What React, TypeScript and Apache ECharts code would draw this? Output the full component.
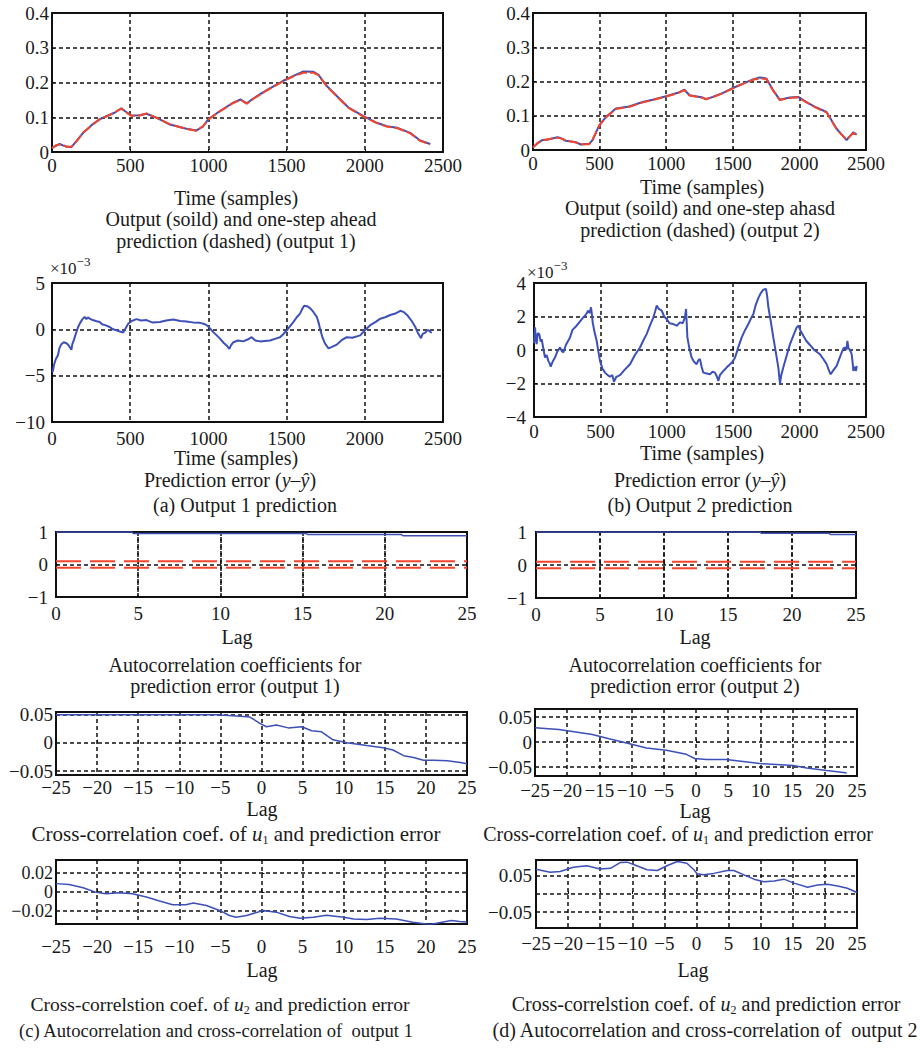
import React, { useEffect, useRef } from 'react';
import * as echarts from 'echarts';

const FONT = 'Liberation Serif';
const BLUE = '#3c50b8';
const RED = '#f2452c';
const INK = '#1a1a1a';

// ---------- data ----------
const timeRange = [0, 2500];
const timeStep = 500;

const output1Measured: [number, number][] = [
  [0, 0.012], [25, 0.018], [49, 0.023], [70, 0.019], [92, 0.016], [124, 0.014], [156, 0.031], [199, 0.055],
  [263, 0.081], [305, 0.094], [348, 0.103], [400, 0.113], [444, 0.126], [465, 0.118], [508, 0.105], [560, 0.106],
  [604, 0.110], [668, 0.099], [754, 0.079], [860, 0.067], [924, 0.062], [967, 0.074], [999, 0.094], [1074, 0.118],
  [1159, 0.142], [1206, 0.151], [1245, 0.140], [1287, 0.154], [1373, 0.178], [1479, 0.205], [1544, 0.219],
  [1608, 0.232], [1672, 0.231], [1704, 0.222], [1757, 0.190], [1821, 0.161], [1896, 0.128], [1992, 0.103],
  [2077, 0.084], [2141, 0.074], [2205, 0.070], [2290, 0.055], [2354, 0.033], [2418, 0.023],
];
const output1Predicted: [number, number][] = [
  [0, 0.011], [25, 0.019], [49, 0.022], [70, 0.020], [92, 0.015], [124, 0.015], [156, 0.030], [199, 0.056],
  [263, 0.080], [305, 0.095], [348, 0.102], [400, 0.114], [444, 0.125], [465, 0.117], [508, 0.104], [560, 0.105],
  [604, 0.111], [668, 0.098], [754, 0.080], [860, 0.066], [924, 0.061], [967, 0.075], [999, 0.093], [1074, 0.117],
  [1159, 0.141], [1206, 0.150], [1245, 0.139], [1287, 0.153], [1373, 0.177], [1479, 0.204], [1544, 0.218],
  [1608, 0.228], [1672, 0.228], [1704, 0.221], [1757, 0.189], [1821, 0.160], [1896, 0.127], [1992, 0.102],
  [2077, 0.083], [2141, 0.073], [2205, 0.069], [2290, 0.054], [2354, 0.032], [2418, 0.022],
];

const output2Measured: [number, number][] = [
  [0, 0.008], [35, 0.020], [70, 0.029], [120, 0.031], [183, 0.037], [208, 0.035], [246, 0.027], [321, 0.023],
  [359, 0.016], [422, 0.018], [447, 0.029], [497, 0.072], [547, 0.096], [622, 0.121], [723, 0.127], [823, 0.140],
  [899, 0.147], [999, 0.157], [1087, 0.167], [1137, 0.176], [1175, 0.160], [1275, 0.153], [1300, 0.148],
  [1350, 0.155], [1426, 0.167], [1501, 0.181], [1576, 0.194], [1652, 0.206], [1702, 0.212], [1752, 0.209],
  [1802, 0.175], [1852, 0.147], [1928, 0.153], [1991, 0.155], [2053, 0.140], [2128, 0.124], [2204, 0.111],
  [2279, 0.062], [2354, 0.029], [2405, 0.052], [2430, 0.045],
];
const output2Predicted: [number, number][] = [
  [0, 0.007], [35, 0.021], [70, 0.028], [120, 0.032], [183, 0.036], [208, 0.034], [246, 0.028], [321, 0.022],
  [359, 0.017], [422, 0.017], [447, 0.030], [497, 0.071], [547, 0.095], [622, 0.120], [723, 0.126], [823, 0.139],
  [899, 0.146], [999, 0.156], [1087, 0.166], [1137, 0.175], [1175, 0.159], [1275, 0.152], [1300, 0.149],
  [1350, 0.154], [1426, 0.166], [1501, 0.180], [1576, 0.193], [1652, 0.205], [1702, 0.209], [1752, 0.207],
  [1802, 0.174], [1852, 0.146], [1928, 0.152], [1991, 0.154], [2053, 0.139], [2128, 0.123], [2204, 0.110],
  [2279, 0.061], [2354, 0.030], [2405, 0.050], [2430, 0.044],
];

// prediction errors, in units of 1e-3
const error1: [number, number][] = [
  [0, -4.6], [6, -4.5], [12, -3.9], [17, -3.6], [25, -3.2], [38, -2.8], [48, -2.0], [60, -1.6], [75, -1.4],
  [92, -1.5], [105, -1.7], [113, -1.9], [124, -2.2], [130, -1.6], [139, -1.2], [150, -0.6], [160, -0.1],
  [167, 0.25], [180, 0.7], [195, 1.1], [209, 1.35], [220, 1.1], [230, 1.3], [241, 1.15], [260, 1.0], [280, 0.9],
  [305, 0.8], [320, 0.55], [340, 0.45], [369, 0.25], [390, 0.0], [412, -0.1], [430, -0.2], [455, -0.35],
  [470, 0.1], [487, 0.6], [510, 0.9], [540, 1.1], [570, 0.95], [604, 1.0], [640, 0.75], [690, 0.8], [730, 0.95],
  [775, 1.05], [820, 0.9], [860, 0.85], [900, 0.75], [946, 0.7], [970, 0.6], [989, 0.45], [1010, 0.1],
  [1031, -0.3], [1050, -0.6], [1074, -1.0], [1100, -1.5], [1120, -1.8], [1134, -2.1], [1145, -1.7],
  [1159, -1.4], [1190, -1.2], [1223, -1.3], [1250, -1.1], [1277, -0.85], [1300, -1.2], [1330, -1.3],
  [1360, -1.25], [1394, -1.2], [1430, -1.0], [1458, -0.85], [1480, -0.5], [1501, -0.1], [1520, 0.3],
  [1544, 0.8], [1565, 1.3], [1586, 1.7], [1600, 2.2], [1612, 2.55], [1630, 2.5], [1650, 2.3], [1670, 1.9],
  [1693, 1.35], [1705, 0.7], [1714, 0.05], [1730, -0.9], [1746, -1.55], [1768, -2.05], [1790, -1.9],
  [1821, -1.65], [1850, -1.2], [1885, -0.85], [1920, -0.9], [1971, -0.65], [2000, -0.1], [2035, 0.45],
  [2070, 0.8], [2099, 1.15], [2130, 1.3], [2163, 1.55], [2195, 1.7], [2227, 2.0], [2250, 1.85], [2270, 1.55],
  [2300, 0.9], [2323, 0.25], [2340, -0.4], [2359, -0.95], [2370, -0.5], [2387, -0.35], [2400, -0.1],
  [2408, -0.1], [2420, -0.3], [2429, -0.35],
];

const error2: [number, number][] = [
  [0, 0.4], [8, 1.35], [14, 0.6], [20, 0.35], [28, 1.0], [40, 0.95], [50, 0.5], [58, 0.65], [70, 0.1],
  [83, -0.45], [95, -0.3], [108, -0.65], [118, -0.8], [126, -1.0], [140, -0.7], [158, -0.45], [175, -0.1],
  [196, 0.15], [208, -0.05], [221, -0.15], [240, 0.3], [271, 0.75], [290, 1.2], [321, 1.45], [345, 1.7],
  [371, 1.95], [390, 2.1], [409, 2.35], [420, 2.2], [429, 2.55], [435, 2.2], [442, 1.65], [455, 1.1],
  [472, 0.55], [485, -0.1], [497, -0.65], [515, -1.1], [535, -1.35], [555, -1.5], [572, -1.6], [590, -1.5],
  [602, -1.9], [620, -1.6], [648, -1.5], [680, -1.2], [723, -0.85], [760, -0.3], [798, 0.15], [825, 0.6],
  [848, 0.95], [875, 1.5], [899, 1.95], [912, 2.3], [924, 2.65], [940, 2.45], [962, 2.35], [980, 2.0],
  [999, 1.85], [1020, 1.6], [1049, 1.55], [1075, 1.45], [1099, 1.65], [1120, 1.6], [1137, 1.95], [1145, 2.45],
  [1150, 1.6], [1155, 0.75], [1170, 0.1], [1187, -0.45], [1205, -0.7], [1225, -0.85], [1238, -0.6],
  [1250, -0.55], [1262, -1.0], [1275, -1.35], [1300, -1.4], [1325, -1.45], [1345, -1.3], [1363, -1.35],
  [1378, -1.6], [1388, -1.85], [1400, -1.5], [1426, -1.25], [1450, -1.05], [1476, -0.85], [1495, -0.7],
  [1514, -0.45], [1540, 0.2], [1564, 0.75], [1590, 1.2], [1614, 1.55], [1635, 1.9], [1652, 2.15], [1670, 2.7],
  [1689, 3.1], [1708, 3.4], [1727, 3.6], [1747, 3.65], [1756, 3.2], [1765, 2.55], [1785, 1.6], [1802, 0.75],
  [1820, -0.1], [1840, -1.05], [1852, -2.0], [1862, -1.5], [1877, -1.05], [1900, -0.4], [1928, 0.35],
  [1955, 0.9], [1978, 1.35], [1991, 1.45], [2010, 1.1], [2028, 0.85], [2050, 0.55], [2078, 0.3], [2110, 0.0],
  [2153, -0.25], [2180, -0.55], [2204, -0.85], [2220, -1.2], [2234, -1.45], [2255, -1.2], [2279, -0.95],
  [2300, -0.5], [2317, -0.15], [2330, 0.1], [2342, 0.15], [2352, 0.0], [2360, 0.55], [2368, 0.1],
  [2375, 0.05], [2385, -0.1], [2392, -0.25], [2400, -0.8], [2405, -1.25], [2415, -1.0], [2425, -1.25],
  [2430, -0.95],
];

// autocorrelation of prediction error
const autocorr1: [number, number][] = [
  [0, 1], [4.6, 1], [4.7, 0.955], [15.2, 0.955], [15.3, 0.925], [21, 0.925], [21.1, 0.885], [25, 0.885],
];
const autocorr2: [number, number][] = [
  [0, 1], [17.5, 1], [17.6, 0.965], [22.9, 0.965], [23, 0.925], [25, 0.925],
];
const confUpper: [number, number][] = [[0, 0.1], [25, 0.1]];
const confLower: [number, number][] = [[0, -0.1], [25, -0.1]];
const autocorrGridLags = [5, 10, 15, 20];

// cross-correlations
const crossU1Out1: [number, number][] = [
  [-25, 0.049], [-15, 0.049], [-5.5, 0.049], [-3, 0.047], [-1.4, 0.045], [-0.2, 0.034], [0.6, 0.028],
  [1.8, 0.031], [3.25, 0.026], [4.9, 0.028], [6.1, 0.021], [7.3, 0.019], [8.7, 0.005], [10.4, 0.0],
  [12.8, -0.005], [14.8, -0.009], [16, -0.013], [17.3, -0.023], [18.5, -0.026], [19.7, -0.031],
  [20.9, -0.031], [22.6, -0.032], [24.2, -0.035], [25, -0.037],
];
const crossU1Out2: [number, number][] = [
  [-25, 0.0287], [-21.3, 0.025], [-19.2, 0.021], [-16.1, 0.015], [-13.5, 0.0067], [-10.3, -0.0033],
  [-7.7, -0.012], [-4.6, -0.0167], [-1.5, -0.0247], [-0.2, -0.033], [1.6, -0.035], [3.2, -0.035],
  [4.7, -0.035], [7.3, -0.039], [9.9, -0.043], [12.5, -0.045], [15.1, -0.047], [17.2, -0.052],
  [20.3, -0.057], [22.9, -0.061], [23.4, -0.062],
];
const crossU2Out1: [number, number][] = [
  [-25, 0.0089], [-23.4, 0.0079], [-21.7, 0.0046], [-20.1, -0.0004], [-18.9, -0.0018], [-17.3, -0.0007],
  [-15.7, -0.0018], [-14.0, -0.0054], [-12.4, -0.0096], [-10.8, -0.0136], [-9.2, -0.0136], [-8.3, -0.0118],
  [-6.7, -0.0143], [-5.1, -0.0196], [-3.9, -0.025], [-3.1, -0.0268], [-1.8, -0.025], [0.2, -0.0196],
  [1.8, -0.0214], [3.4, -0.0261], [4.7, -0.0279], [6.3, -0.0268], [7.9, -0.0246], [10.0, -0.0268],
  [11.2, -0.0286], [12.8, -0.0293], [14.4, -0.0279], [16.4, -0.0286], [18.4, -0.0321], [20.5, -0.0346],
  [22.1, -0.0318], [23.1, -0.0304], [24.1, -0.0314], [25, -0.032],
];
const crossU2Out2: [number, number][] = [
  [-25, 0.0685], [-22.8, 0.060], [-21.25, 0.062], [-19.2, 0.074], [-17.1, 0.078], [-15.0, 0.069],
  [-13.4, 0.071], [-11.9, 0.087], [-10.8, 0.088], [-9.3, 0.078], [-7.7, 0.067], [-6.1, 0.065], [-4.6, 0.078],
  [-3.0, 0.090], [-1.5, 0.085], [-0.4, 0.067], [0.1, 0.056], [1.1, 0.053], [2.7, 0.057], [4.8, 0.065],
  [5.8, 0.065], [7.4, 0.053], [8.95, 0.041], [10.5, 0.034], [12.1, 0.036], [13.6, 0.041], [15.2, 0.030],
  [17.3, 0.0185], [18.85, 0.025], [20.4, 0.027], [21.98, 0.022], [23.5, 0.016], [25, 0.004],
];
const yTicksCross1Out1 = [-0.05, 0, 0.05];
const yTicksCross1Out2 = [-0.05, 0, 0.05];
const yTicksCross2Out1 = [-0.02, 0, 0.02];
const yTicksCross2Out2 = [-0.05, 0, 0.05];

// ---------- layout ----------
const grids = [
  { left: 52, top: 13, width: 391, height: 139 },
  { left: 533, top: 13, width: 333, height: 137 },
  { left: 52, top: 283, width: 391, height: 139 },
  { left: 534, top: 283, width: 332, height: 134 },
  { left: 56, top: 532, width: 411, height: 65 },
  { left: 536, top: 532, width: 320, height: 66 },
  { left: 56, top: 712, width: 411, height: 63 },
  { left: 535, top: 709, width: 322, height: 67 },
  { left: 56, top: 860, width: 411, height: 64 },
  { left: 536, top: 860, width: 321, height: 68 },
];

const fmt = (v: number) => {
  const s = String(Math.round(v * 1e6) / 1e6);
  return s.replace('-', '\u2212');
};

const gridLineStyle = { color: '#111', type: [4, 3] as number[], width: 1.5 };
const gridLine = { show: true, lineStyle: gridLineStyle };
const labelStyle = {
  color: INK, fontFamily: FONT, fontSize: 19, formatter: fmt,
  showMinLabel: true, showMaxLabel: true, hideOverlap: false,
};

// axis with regular interval (min is a multiple of interval)
function axisI(i: number, min: number, max: number, interval: number, margin: number) {
  return {
    type: 'value', gridIndex: i, min, max, interval,
    axisLine: { show: false },
    axisTick: { show: true, inside: true, length: 3, lineStyle: { color: '#111' } },
    splitLine: gridLine,
    axisLabel: { ...labelStyle, margin },
  };
}
// axis with custom tick values (non-round limits)
function axisC(i: number, min: number, max: number, ticks: number[], margin: number, fontSize = 19) {
  return {
    type: 'value', gridIndex: i, min, max,
    axisLine: { show: false },
    axisTick: { show: true, inside: true, length: 3, customValues: ticks, lineStyle: { color: '#111' } },
    splitLine: gridLine,
    axisLabel: { ...labelStyle, fontSize, lineHeight: fontSize, margin, customValues: ticks },
  };
}

function line(i: number, data: [number, number][], color: string, width: number, type: any = 'solid', z = 3) {
  return {
    type: 'line', xAxisIndex: i, yAxisIndex: i, data, showSymbol: false, symbol: 'none', z,
    lineStyle: { color, width, type }, clip: true,
  } as any;
}

function withVerticalGrid(s: any, lags: number[]) {
  return {
    ...s,
    markLine: {
      silent: true, symbol: ['none', 'none'], label: { show: false }, z: 2,
      lineStyle: gridLineStyle,
      data: lags.map((v) => ({ xAxis: v })),
    },
  };
}

function txt(x: number, y: number, text: string, size = 20) {
  const rich = {
    r: { fontSize: size, fontFamily: FONT, fill: INK, lineHeight: 24, verticalAlign: 'middle' },
    i: { fontSize: size, fontFamily: FONT, fill: INK, fontStyle: 'italic', lineHeight: 24, verticalAlign: 'middle' },
    s: { fontSize: 12, fontFamily: FONT, fill: INK, lineHeight: 12, verticalAlign: 'bottom' },
  };
  return {
    type: 'text', x, y, z: 100,
    style: {
      text, fill: INK, font: `${size}px "${FONT}"`, fontSize: size, fontFamily: FONT,
      textAlign: 'center', align: 'center', textVerticalAlign: 'middle', verticalAlign: 'middle',
      rich,
    },
  };
}

const richSup = {
  r: { fontSize: 17, fontFamily: FONT, fill: INK, lineHeight: 22, verticalAlign: 'bottom' },
  s: { fontSize: 13, fontFamily: FONT, fill: INK, lineHeight: 13, verticalAlign: 'top' },
};

export default function App() {
  const ref = useRef<HTMLDivElement>(null);
  useEffect(() => {
    if (!ref.current) return;
    const chart = echarts.init(ref.current, null, { renderer: 'svg' });
    const [t0, t1] = timeRange;
    const option: any = {
      animation: false,
      backgroundColor: '#fff',
      textStyle: { fontFamily: FONT },
      grid: grids.map((g) => ({ ...g, show: true, borderColor: '#111', borderWidth: 2, backgroundColor: 'transparent', containLabel: false })),
      xAxis: [
        axisI(0, t0, t1, timeStep, 4),
        axisI(1, t0, t1, timeStep, 4),
        axisI(2, t0, t1, timeStep, 7),
        axisI(3, t0, t1, timeStep, 5),
        axisI(4, 0, 25, 5, 7),
        axisI(5, 0, 25, 5, 7),
        axisI(6, -25, 25, 5, 3),
        axisI(7, -25, 25, 5, 5),
        axisI(8, -25, 25, 5, 13),
        axisI(9, -25, 25, 5, 6),
      ],
      yAxis: [
        axisI(0, 0, 0.4, 0.1, 3),
        axisI(1, 0, 0.4, 0.1, 3),
        axisI(2, -10, 5, 5, 7),
        axisI(3, -4, 4, 2, 8),
        axisI(4, -1, 1, 1, 8),
        axisI(5, -1, 1, 1, 9),
        axisC(6, -0.057, 0.054, yTicksCross1Out1, 3),
        axisC(7, -0.068, 0.066, yTicksCross1Out2, 3),
        axisC(8, -0.034, 0.034, yTicksCross2Out1, 3, 18),
        axisC(9, -0.094, 0.094, yTicksCross2Out2, 4),
      ],
      series: [
        line(0, output1Measured, BLUE, 2),
        line(0, output1Predicted, RED, 2, [10, 3], 4),
        line(1, output2Measured, BLUE, 2),
        line(1, output2Predicted, RED, 2, [10, 3], 4),
        line(2, error1, BLUE, 2),
        line(3, error2, BLUE, 2),
        withVerticalGrid(line(4, autocorr1, BLUE, 1.5), autocorrGridLags),
        line(4, confUpper, RED, 2, [25, 9], 4),
        line(4, confLower, RED, 2, [25, 9], 4),
        withVerticalGrid(line(5, autocorr2, BLUE, 1.5), autocorrGridLags),
        line(5, confUpper, RED, 2, [25, 9], 4),
        line(5, confLower, RED, 2, [25, 9], 4),
        line(6, crossU1Out1, BLUE, 1.5),
        line(7, crossU1Out2, BLUE, 1.5),
        line(8, crossU2Out1, BLUE, 1.5),
        line(9, crossU2Out2, BLUE, 1.5),
      ],
      graphic: [
        txt(236, 198, 'Time (samples)'),
        txt(241, 219, 'Output (soild) and one-step ahead'),
        txt(236, 241, 'prediction (dashed) (output 1)'),
        txt(702, 187, 'Time (samples)'),
        txt(700, 208, 'Output (soild) and one-step ahasd'),
        txt(700, 230, 'prediction (dashed) (output 2)'),
        {
          type: 'text', x: 50, y: 266, z: 100,
          style: { text: '{r|\u00d710}{s|\u22123}', rich: richSup, textAlign: 'left', align: 'left', textVerticalAlign: 'middle', verticalAlign: 'middle' },
        },
        {
          type: 'text', x: 527, y: 270, z: 100,
          style: { text: '{r|\u00d710}{s|\u22123}', rich: richSup, textAlign: 'left', align: 'left', textVerticalAlign: 'middle', verticalAlign: 'middle' },
        },
        txt(236, 458, 'Time (samples)'),
        txt(702, 453, 'Time (samples)'),
        txt(230, 480, '{r|Prediction error (}{i|y\u2013\u0177}{r|)}'),
        txt(700, 480, '{r|Prediction error (}{i|y\u2013\u0177}{r|)}'),
        txt(245, 505, '(a) Output 1 prediction'),
        txt(700, 505, '(b) Output 2 prediction'),
        txt(237, 637, 'Lag'),
        txt(695, 637, 'Lag'),
        txt(235, 665, 'Autocorrelation coefficients for'),
        txt(235, 686, 'prediction error (output 1)'),
        txt(695, 665, 'Autocorrelation coefficients for'),
        txt(695, 686, 'prediction error (output 2)'),
        txt(262, 809, 'Lag'),
        txt(695, 811, 'Lag'),
        txt(236, 834, '{r|Cross-correlation coef. of }{i|u}{s|1}{r| and prediction error}', 21),
        txt(678, 834, '{r|Cross-correlation coef. of }{i|u}{s|1}{r| and prediction error}', 20),
        txt(262, 970, 'Lag'),
        txt(693, 970, 'Lag'),
        txt(220, 1004, '{r|Cross-correlstion coef. of }{i|u}{s|2}{r| and prediction error}', 19.5),
        txt(706, 1004, '{r|Cross-correlstion coef. of }{i|u}{s|2}{r| and prediction error}', 20),
        txt(216, 1030, '(c) Autocorrelation and cross-correlation of  output 1', 18.6),
        txt(705, 1030, '(d) Autocorrelation and cross-correlation of  output 2', 20),
      ],
    };
    chart.setOption(option);
    return () => chart.dispose();
  }, []);
  return (
    <div
      ref={ref}
      style={{ position: 'absolute', left: 0, top: 0, width: 920, height: 1048, background: '#fff' }}
    />
  );
}
